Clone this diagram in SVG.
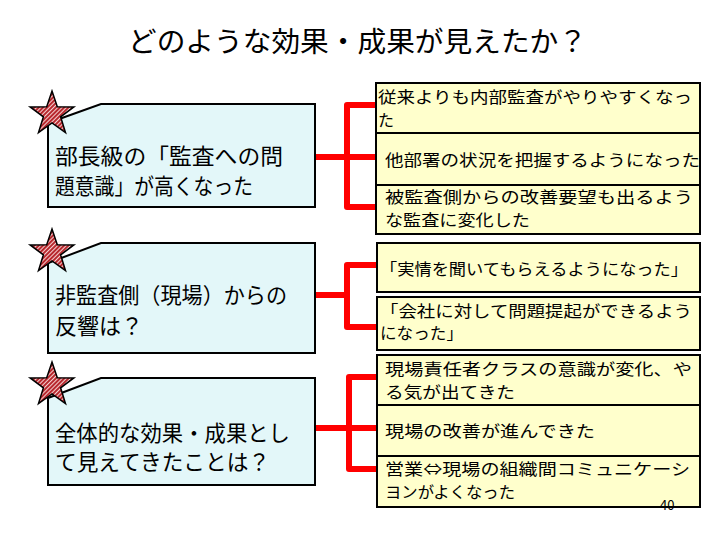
<svg xmlns="http://www.w3.org/2000/svg" width="720" height="540" viewBox="0 0 720 540">
<style>
.t{font-family:"MS PGothic","Noto Sans CJK JP","Noto Sans CJK SC",sans-serif;fill:#000}
.lt{font-size:22px}
.rt{font-size:16px}
.lbox{fill:#e3f7f9;stroke:#000;stroke-width:2}
.rbox{fill:#ffffcc;stroke:#000;stroke-width:2}
.con{fill:none;stroke:#ff0000;stroke-width:6;stroke-linejoin:round;stroke-linecap:butt}
.star{fill:url(#hatch);stroke:#000;stroke-width:1.5}
</style>
<defs>
<pattern id="hatch" width="3" height="3" patternUnits="userSpaceOnUse" patternTransform="rotate(45)">
<rect width="3" height="3" fill="#f4d0d0"/>
<rect width="2" height="3" fill="#b8282e"/>
</pattern>
<polygon id="starShape" class="star" points="0,-23 5.3,-7.3 21.9,-7.1 8.6,2.8 13.5,18.6 0,9 -13.5,18.6 -8.6,2.8 -21.9,-7.1 -5.3,-7.3"/>
</defs>
<rect width="720" height="540" fill="#fff"/>
<text class="t" x="128" y="52" font-size="28" textLength="459" lengthAdjust="spacingAndGlyphs">どのような効果・成果が見えたか？</text>

<g id="connectors">
<path class="con" d="M315,157 H376 M376,105 H347 V207 H376"/>
<path class="con" d="M315,295 H347 M377,265 H347 V327 H377"/>
<path class="con" d="M315,428 H377 M377,377 H349 V469 H377"/>
</g>

<g id="q1">
<polygon class="lbox" points="48,123 101,104 315,104 315,207 48,207"/>
<use href="#starShape" x="52" y="114"/>
<text class="t lt" x="55" y="164" textLength="228" lengthAdjust="spacingAndGlyphs">部長級の「監査への問</text>
<text class="t lt" x="55" y="194" textLength="198" lengthAdjust="spacingAndGlyphs">題意識」が高くなった</text>
</g>
<g id="q2">
<polygon class="lbox" points="48,263 101,243 315,243 315,353 48,353"/>
<use href="#starShape" x="52" y="252"/>
<text class="t lt" x="55" y="303" textLength="232" lengthAdjust="spacingAndGlyphs">非監査側（現場）からの</text>
<text class="t lt" x="55" y="334" textLength="88" lengthAdjust="spacingAndGlyphs">反響は？</text>
</g>
<g id="q3">
<polygon class="lbox" points="48,398 101,378 315,378 315,485 48,485"/>
<use href="#starShape" x="52" y="385"/>
<text class="t lt" x="55" y="441" textLength="235" lengthAdjust="spacingAndGlyphs">全体的な効果・成果とし</text>
<text class="t lt" x="55" y="470" textLength="215" lengthAdjust="spacingAndGlyphs">て見えてきたことは？</text>
</g>

<g id="a1">
<rect class="rbox" x="376" y="83" width="324" height="50"/>
<text class="t rt" x="378" y="103" textLength="314" lengthAdjust="spacingAndGlyphs">従来よりも内部監査がやりやすくなっ</text>
<text class="t rt" x="378" y="126">た</text>
</g>
<g id="a2">
<rect class="rbox" x="376" y="133" width="324" height="52"/>
<text class="t rt" x="385" y="166" textLength="315" lengthAdjust="spacingAndGlyphs">他部署の状況を把握するようになった</text>
</g>
<g id="a3">
<rect class="rbox" x="376" y="185" width="324" height="49"/>
<text class="t rt" x="385" y="203" textLength="308" lengthAdjust="spacingAndGlyphs">被監査側からの改善要望も出るよう</text>
<text class="t rt" x="385" y="226" textLength="145" lengthAdjust="spacingAndGlyphs">な監査に変化した</text>
</g>

<g id="b1">
<rect class="rbox" x="377" y="243" width="323" height="49"/>
<text class="t rt" x="380" y="275" textLength="308" lengthAdjust="spacingAndGlyphs">「実情を聞いてもらえるようになった」</text>
</g>
<g id="b2">
<rect class="rbox" x="377" y="297" width="323" height="53"/>
<text class="t rt" x="380" y="317" textLength="312" lengthAdjust="spacingAndGlyphs">「会社に対して問題提起ができるよう</text>
<text class="t rt" x="380" y="339" textLength="83" lengthAdjust="spacingAndGlyphs">になった」</text>
</g>

<g id="c1">
<rect class="rbox" x="377" y="355" width="323" height="50"/>
<text class="t rt" x="385" y="375" textLength="307" lengthAdjust="spacingAndGlyphs">現場責任者クラスの意識が変化、や</text>
<text class="t rt" x="385" y="398" textLength="130" lengthAdjust="spacingAndGlyphs">る気が出てきた</text>
</g>
<g id="c2">
<rect class="rbox" x="377" y="405" width="323" height="51"/>
<text class="t rt" x="385" y="437" textLength="210" lengthAdjust="spacingAndGlyphs">現場の改善が進んできた</text>
</g>
<g id="c3">
<rect class="rbox" x="377" y="456" width="323" height="51"/>
<text class="t rt" x="385" y="475" textLength="305" lengthAdjust="spacingAndGlyphs">営業⇔現場の組織間コミュニケーシ</text>
<text class="t rt" x="385" y="498" textLength="130" lengthAdjust="spacingAndGlyphs">ヨンがよくなった</text>
<text class="t" x="660" y="510" font-size="13">40</text>
</g>
</svg>
